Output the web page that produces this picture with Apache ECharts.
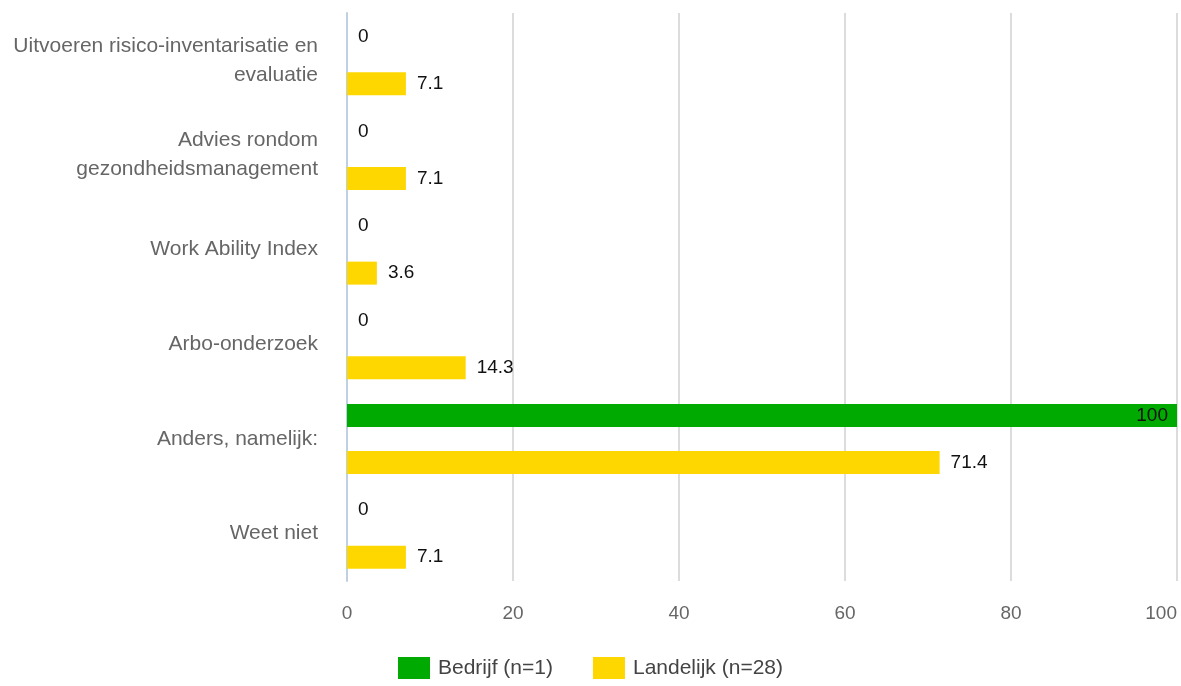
<!DOCTYPE html>
<html>
<head>
<meta charset="utf-8">
<script src="https://cdn.jsdelivr.net/npm/echarts@6/dist/echarts.min.js"></script>
<style>
  html, body { margin: 0; padding: 0; background: #fff; }
  #chart { width: 1181px; height: 686px; }
</style>
</head>
<body>
<div id="chart"></div>
<script>
var categories = [
  "Uitvoeren risico-inventarisatie en\nevaluatie",
  "Advies rondom\ngezondheidsmanagement",
  "Work Ability Index",
  "Arbo-onderzoek",
  "Anders, namelijk:",
  "Weet niet"
];
var bedrijf = [0, 0, 0, 0, 100, 0];
var landelijk = [7.1, 7.1, 3.6, 14.3, 71.4, 7.1];
var xTicks = [0, 20, 40, 60, 80, 100];

var chart = echarts.init(document.getElementById("chart"));

var labelStyle = {
  show: true,
  position: "right",
  distance: 11,
  color: "#111",
  fontFamily: "Liberation Sans, Arial",
  fontSize: 19
};

chart.setOption({
  animation: false,
  textStyle: { fontFamily: "Liberation Sans, Arial" },
  grid: { left: 347, right: 4, top: 13, bottom: 105, outerBoundsMode: "none", containLabel: false },
  legend: {
    bottom: 2,
    left: "center",
    icon: "rect",
    itemWidth: 32,
    itemHeight: 22,
    itemGap: 40,
    textStyle: { color: "#444", fontSize: 21, fontFamily: "Liberation Sans, Arial", padding: [0, 0, 0, 3] },
    data: ["Bedrijf (n=1)", "Landelijk (n=28)"]
  },
  xAxis: {
    type: "value",
    min: xTicks[0],
    max: xTicks[xTicks.length - 1],
    interval: 20,
    axisLine: { show: false },
    axisTick: { show: false },
    axisLabel: { color: "#666", fontSize: 19, margin: 23, alignMaxLabel: "right" },
    splitLine: { lineStyle: { color: "#dcdcdc", width: 2 } }
  },
  yAxis: {
    type: "category",
    inverse: true,
    data: categories,
    axisLine: { lineStyle: { color: "#c0d0e0", width: 2 } },
    axisTick: { length: 16, lineStyle: { color: "#c0d0e0", width: 2 } },
    axisLabel: {
      color: "#666", fontSize: 21, margin: 29, lineHeight: 29, align: "right",
      padding: [6, 0, 0, 0]
    }
  },
  series: [
    {
      name: "Bedrijf (n=1)",
      type: "bar",
      barWidth: 23,
      barGap: "104%",
      itemStyle: { color: "#00aa00" },
      label: labelStyle,
      // full-width bar: its label sits inside the end, as in the source
      data: bedrijf.map(function (v) {
        return v >= 100 ? { value: v, label: { position: "insideRight", distance: 9 } } : v;
      })
    },
    {
      name: "Landelijk (n=28)",
      type: "bar",
      data: landelijk,
      barWidth: 23,
      barGap: "104%",
      itemStyle: { color: "#ffd700" },
      label: labelStyle
    }
  ]
});
</script>
</body>
</html>
